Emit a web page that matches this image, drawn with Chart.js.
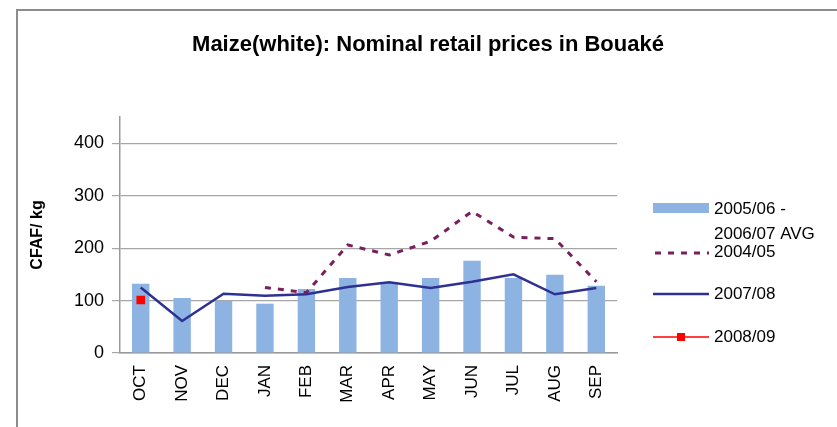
<!DOCTYPE html>
<html>
<head>
<meta charset="utf-8">
<script src="https://cdn.jsdelivr.net/npm/chart.js@4.4.1/dist/chart.umd.min.js"></script>
<style>
  html, body { margin: 0; padding: 0; background: #fff; overflow: hidden; }
  #wrap { position: relative; width: 837px; height: 427px; }
  #frame { position: absolute; left: 16px; top: 9px; width: 900px; height: 500px;
           border: 2px solid #8c8c8c; box-sizing: border-box; pointer-events: none; }
</style>
</head>
<body>
<div id="wrap">
  <canvas id="priceChart" width="837" height="427"></canvas>
  <div id="frame"></div>
</div>
<script>
const months = ['OCT', 'NOV', 'DEC', 'JAN', 'FEB', 'MAR', 'APR', 'MAY', 'JUN', 'JUL', 'AUG', 'SEP'];
const avg0507 = [132, 105, 99, 94, 122, 143, 135, 143, 176, 143, 149, 128];
const y0405 = [null, null, null, 125, 115, 206, 187, 213, 270, 221, 218, 136];
const y0708 = [125, 61, 113, 109, 112, 126, 135, 124, 136, 150, 112, 124];
const y0809 = [101, null, null, null, null, null, null, null, null, null, null, null];
const yTicks = [0, 100, 200, 300, 400];
const chartTitle = 'Maize(white): Nominal retail prices in Bouaké';

const sans = "'Liberation Sans', Arial, sans-serif";

// title centred on the whole frame, not on the plot
const frameTitle = {
    id: 'frameTitle',
    afterDraw(chart) {
        const ctx = chart.ctx;
        ctx.save();
        ctx.font = 'bold 22px ' + sans;
        ctx.fillStyle = '#000';
        ctx.textAlign = 'center';
        ctx.textBaseline = 'middle';
        ctx.fillText(chartTitle, 428, 45);
        ctx.restore();
    }
};

// legend drawn at the right, Excel style
const sideLegend = {
    id: 'sideLegend',
    afterDraw(chart) {
        const ctx = chart.ctx;
        const ds = chart.data.datasets;
        const x0 = 653, x1 = 709, tx = 714;
        ctx.save();
        ctx.font = '17px ' + sans;
        ctx.textBaseline = 'middle';
        ctx.textAlign = 'left';

        // bars
        ctx.fillStyle = ds[0].backgroundColor;
        ctx.fillRect(x0, 203, x1 - x0, 10);
        ctx.fillStyle = '#000';
        ctx.fillText('2005/06 -', tx, 209);
        ctx.fillText('2006/07 AVG', tx, 234);

        // dotted
        ctx.strokeStyle = ds[1].borderColor;
        ctx.lineWidth = ds[1].borderWidth;
        ctx.setLineDash(ds[1].borderDash);
        ctx.beginPath(); ctx.moveTo(x0 + 2, 253); ctx.lineTo(x1, 253); ctx.stroke();
        ctx.setLineDash([]);
        ctx.fillText('2004/05', tx, 252);

        // solid
        ctx.strokeStyle = ds[2].borderColor;
        ctx.lineWidth = ds[2].borderWidth;
        ctx.beginPath(); ctx.moveTo(x0, 294); ctx.lineTo(x1, 294); ctx.stroke();
        ctx.fillText('2007/08', tx, 294);

        // red with marker
        ctx.strokeStyle = ds[3].borderColor;
        ctx.lineWidth = 1.5;
        ctx.beginPath(); ctx.moveTo(x0, 337); ctx.lineTo(x1, 337); ctx.stroke();
        ctx.fillStyle = ds[3].pointBackgroundColor;
        ctx.fillRect(677, 333, 8, 8);
        ctx.fillStyle = '#000';
        ctx.fillText('2008/09', tx, 337);
        ctx.restore();
    }
};

new Chart(document.getElementById('priceChart'), {
    type: 'bar',
    data: {
        labels: months,
        datasets: [{
            type: 'bar',
            label: '2005/06 - 2006/07 AVG',
            data: avg0507,
            backgroundColor: '#8db3e2',
            categoryPercentage: 1,
            barPercentage: 0.42,
            order: 4
        }, {
            type: 'line',
            label: '2004/05',
            data: y0405,
            borderColor: '#7a1f5e',
            borderWidth: 3,
            borderDash: [6, 7],
            pointRadius: 0,
            fill: false,
            order: 3
        }, {
            type: 'line',
            label: '2007/08',
            data: y0708,
            borderColor: '#2e3192',
            borderWidth: 2.5,
            pointRadius: 0,
            fill: false,
            order: 2
        }, {
            type: 'line',
            label: '2008/09',
            data: y0809,
            borderColor: '#ff0000',
            borderWidth: 1.5,
            pointStyle: 'rect',
            pointRadius: 5,
            pointBackgroundColor: '#ff0000',
            pointBorderColor: '#ff0000',
            order: 1
        }]
    },
    options: {
        responsive: false,
        animation: false,
        layout: { padding: { left: 0, right: 220, top: 117, bottom: 0 } },
        plugins: {
            legend: { display: false },
            tooltip: { enabled: false },
            title: { display: false }
        },
        scales: {
            x: {
                offset: true,
                grid: { display: false, drawTicks: false },
                border: { color: '#999', width: 1.5 },
                ticks: { color: '#000', font: { family: sans, size: 17 }, minRotation: 90, maxRotation: 90, padding: 12, autoSkip: false },
                afterFit(s) { s.height = 74; }
            },
            y: {
                min: 0,
                max: 450,
                grid: { color: '#a6a6a6', lineWidth: 1.2, tickLength: 8, drawTicks: true },
                border: { color: '#999', width: 1.5 },
                ticks: { color: '#000', font: { family: sans, size: 18 }, padding: 8 },
                afterBuildTicks(s) { s.ticks = yTicks.map(v => ({ value: v })); },
                title: {
                    display: true,
                    text: 'CFAF/ kg',
                    color: '#000',
                    font: { family: sans, size: 16, weight: 'bold', lineHeight: 1.2 },
                    padding: { top: 28, bottom: 0 }
                },
                afterFit(s) { s.width = 120; }
            }
        }
    },
    plugins: [frameTitle, sideLegend]
});
</script>
</body>
</html>
